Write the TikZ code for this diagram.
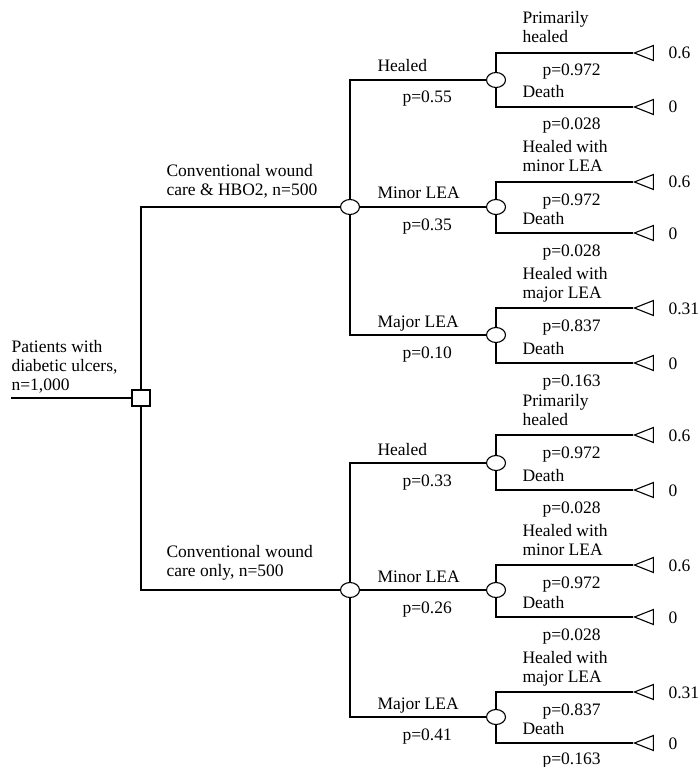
\documentclass[tikz,border=0pt]{standalone}
\usepackage{fontspec}
\setmainfont{Liberation Serif}
\usetikzlibrary{shapes.geometric}
\tikzset{
  decision/.style={draw, fill=white, rectangle, minimum width=18pt, minimum height=16pt, inner sep=0pt},
  chance/.style={draw, fill=white, ellipse, minimum width=19pt, minimum height=15pt, inner sep=0pt},
  terminal/.style={draw, fill=white, isosceles triangle, isosceles triangle stretches, shape border rotate=180, minimum width=15pt, minimum height=19pt, inner sep=0pt, anchor=apex},
  lbl/.style={anchor=base west, inner sep=0pt, align=left},
}

\begin{document}
\begin{tikzpicture}[x=1pt, y=-1pt, font=\fontsize{17.5}{19}\selectfont, line width=1.1pt]
    \useasboundingbox (0,0) rectangle (700,767);
    \coordinate (in) at (11,398);
    \node[decision] (sq) at (141,398) {};
    \node[chance] (c1) at (350,207) {};
    \node[chance] (c2) at (350,590) {};
    \node[chance] (h1) at (496,80) {};
    \node[chance] (m1) at (496,207) {};
    \node[chance] (j1) at (496,335) {};
    \node[chance] (h2) at (496,463) {};
    \node[chance] (m2) at (496,590) {};
    \node[chance] (j2) at (496,717) {};
    \node[terminal] (h1a) at (633,53) {};
    \node[terminal] (h1b) at (633,107) {};
    \node[terminal] (m1a) at (633,182) {};
    \node[terminal] (m1b) at (633,233) {};
    \node[terminal] (j1a) at (633,308) {};
    \node[terminal] (j1b) at (633,363) {};
    \node[terminal] (h2a) at (633,435) {};
    \node[terminal] (h2b) at (633,490) {};
    \node[terminal] (m2a) at (633,565) {};
    \node[terminal] (m2b) at (633,617) {};
    \node[terminal] (j2a) at (633,692) {};
    \node[terminal] (j2b) at (633,743) {};
    \draw (in) -- (sq);
    \draw (sq) |- (c1);
    \draw (sq) |- (c2);
    \draw (c1) |- (h1);
    \draw (c1) -- (m1);
    \draw (c1) |- (j1);
    \draw (c2) |- (h2);
    \draw (c2) -- (m2);
    \draw (c2) |- (j2);
    \draw (h1) |- (h1a);
    \draw (h1) |- (h1b);
    \draw (m1) |- (m1a);
    \draw (m1) |- (m1b);
    \draw (j1) |- (j1a);
    \draw (j1) |- (j1b);
    \draw (h2) |- (h2a);
    \draw (h2) |- (h2b);
    \draw (m2) |- (m2a);
    \draw (m2) |- (m2b);
    \draw (j2) |- (j2a);
    \draw (j2) |- (j2b);
    \node[lbl] (root) at (11,390) {Patients with\\diabetic ulcers,\\n=1,000};
    \node[lbl] (c1txt) at (166,196) {Conventional wound\\care \& HBO2, n=500};
    \node[lbl] (c2txt) at (166,576) {Conventional wound\\care only, n=500};
    \node[lbl] (h1txt) at (377,72) {Healed};
    \node[lbl] (h1p) at (402,103) {p=0.55};
    \node[lbl] (m1txt) at (377,199) {Minor LEA};
    \node[lbl] (m1p) at (402,230) {p=0.35};
    \node[lbl] (j1txt) at (377,327) {Major LEA};
    \node[lbl] (j1p) at (402,358) {p=0.10};
    \node[lbl] (h2txt) at (377,455) {Healed};
    \node[lbl] (h2p) at (402,486) {p=0.33};
    \node[lbl] (m2txt) at (377,582) {Minor LEA};
    \node[lbl] (m2p) at (402,613) {p=0.26};
    \node[lbl] (j2txt) at (377,709) {Major LEA};
    \node[lbl] (j2p) at (402,740) {p=0.41};
    \node[lbl] (h1atxt) at (522,43) {Primarily\\healed};
    \node[lbl] (h1ap) at (542,76) {p=0.972};
    \node[lbl] (h1btxt) at (522,98) {Death};
    \node[lbl] (h1bp) at (542,130) {p=0.028};
    \node[lbl] (m1atxt) at (522,172) {Healed with\\minor LEA};
    \node[lbl] (m1ap) at (542,205) {p=0.972};
    \node[lbl] (m1btxt) at (522,224) {Death};
    \node[lbl] (m1bp) at (542,256) {p=0.028};
    \node[lbl] (j1atxt) at (522,298) {Healed with\\major LEA};
    \node[lbl] (j1ap) at (542,331) {p=0.837};
    \node[lbl] (j1btxt) at (522,354) {Death};
    \node[lbl] (j1bp) at (542,386) {p=0.163};
    \node[lbl] (h2atxt) at (522,425) {Primarily\\healed};
    \node[lbl] (h2ap) at (542,458) {p=0.972};
    \node[lbl] (h2btxt) at (522,481) {Death};
    \node[lbl] (h2bp) at (542,513) {p=0.028};
    \node[lbl] (m2atxt) at (522,555) {Healed with\\minor LEA};
    \node[lbl] (m2ap) at (542,588) {p=0.972};
    \node[lbl] (m2btxt) at (522,608) {Death};
    \node[lbl] (m2bp) at (542,640) {p=0.028};
    \node[lbl] (j2atxt) at (522,682) {Healed with\\major LEA};
    \node[lbl] (j2ap) at (542,715) {p=0.837};
    \node[lbl] (j2btxt) at (522,734) {Death};
    \node[lbl] (j2bp) at (542,764) {p=0.163};
    \node[lbl] (h1aval) at (668,59) {0.6};
    \node[lbl] (h1bval) at (668,113) {0};
    \node[lbl] (m1aval) at (668,188) {0.6};
    \node[lbl] (m1bval) at (668,239) {0};
    \node[lbl] (j1aval) at (668,314) {0.31};
    \node[lbl] (j1bval) at (668,369) {0};
    \node[lbl] (h2aval) at (668,441) {0.6};
    \node[lbl] (h2bval) at (668,496) {0};
    \node[lbl] (m2aval) at (668,571) {0.6};
    \node[lbl] (m2bval) at (668,623) {0};
    \node[lbl] (j2aval) at (668,698) {0.31};
    \node[lbl] (j2bval) at (668,749) {0};
\end{tikzpicture}
\end{document}
